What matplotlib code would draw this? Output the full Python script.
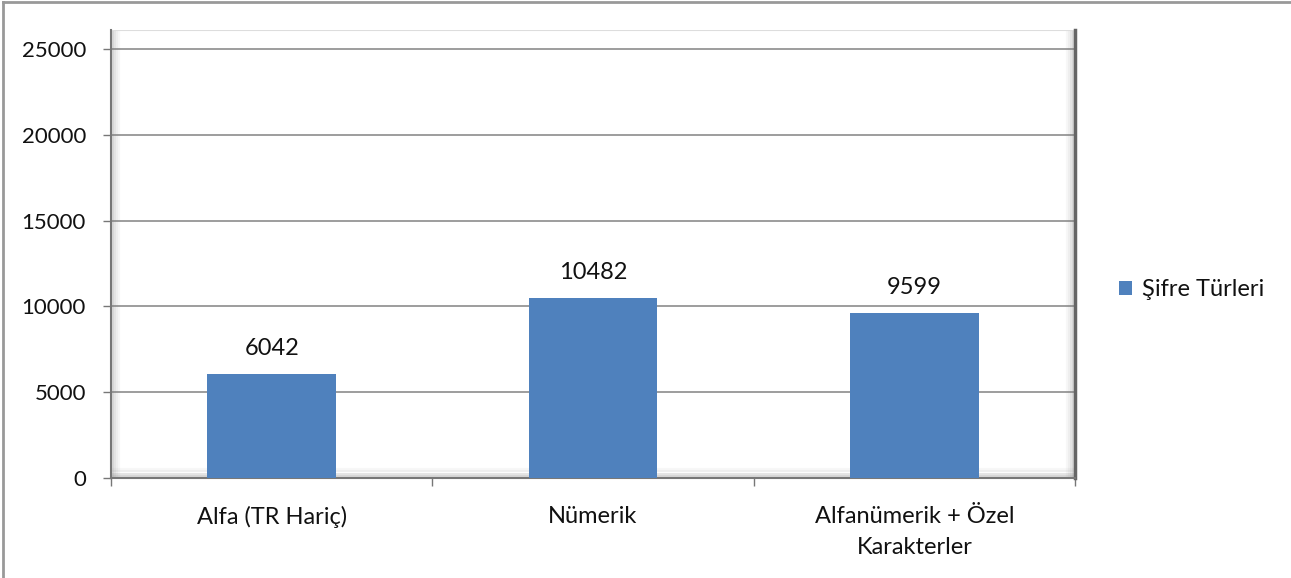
import matplotlib.pyplot as plt
import numpy as np
from matplotlib.lines import Line2D

# chart data
categories = ["Alfa (TR Hariç)", "Nümerik", "Alfanümerik + Özel\nKarakterler"]
values = [6042, 10482, 9599]
series_name = "Şifre Türleri"
y_ticks = [0, 5000, 10000, 15000, 20000, 25000]

bar_color = "#4F81BD"
grid_color = "#8C8C8C"
text_color = "#111111"

plt.rcParams['font.family'] = ['Lato', 'DejaVu Sans']

fig = plt.figure(figsize=(12.91, 5.78), dpi=100)
# plot area placed in pixels of the reference
ax = fig.add_axes([111 / 1291, 1 - 478 / 578, (1075 - 111) / 1291, (478 - 30) / 578])

x = np.arange(len(categories))
bars = ax.bar(x, values, width=0.4, color=bar_color, zorder=3, label=series_name)
ax.bar_label(bars, labels=[str(v) for v in values], padding=11, fontsize=17, color=text_color)

ax.set_xlim(-0.5, len(categories) - 0.5)
ax.set_ylim(0, 26100)
ax.set_yticks(y_ticks)
ax.set_yticklabels([str(t) for t in y_ticks], fontsize=16, color=text_color)
ax.yaxis.grid(True, color=grid_color, lw=1.2, zorder=0)
ax.tick_params(axis='y', length=6, width=1, color="#777777", pad=12)

ax.set_xticks(x)
ax.set_xticklabels(categories, fontsize=17, color=text_color, linespacing=1.6)
ax.set_xticks(np.arange(len(categories) + 1) - 0.5, minor=True)
ax.tick_params(axis='x', which='major', length=0, pad=20)
ax.tick_params(axis='x', which='minor', length=6, width=1, color="#777777")

# frame with a soft shadow look
ax.spines['top'].set_visible(False)
ax.spines['left'].set_color("#777777")
ax.spines['left'].set_linewidth(1.5)
ax.spines['bottom'].set_color("#777777")
ax.spines['bottom'].set_linewidth(1.5)
ax.spines['right'].set_color("#666666")
ax.spines['right'].set_linewidth(2.5)
for i, a in enumerate([0.3, 0.2, 0.12, 0.06]):
    off = (i + 1) * 0.0022
    ax.add_line(Line2D([off, off], [0, 1], transform=ax.transAxes, color="gray", alpha=a, lw=1.5))
    ax.add_line(Line2D([0, 1], [off * 2.2, off * 2.2], transform=ax.transAxes, color="gray", alpha=a, lw=1.5))
    ax.add_line(Line2D([1 - off, 1 - off], [0, 1], transform=ax.transAxes, color="gray", alpha=a, lw=1.5))
ax.add_line(Line2D([0, 1], [1, 1], transform=ax.transAxes, color="#dddddd", lw=1.5))

leg = fig.legend(handles=[bars], labels=[series_name], loc='center left',
                 bbox_to_anchor=(1098 / 1291, 1 - 290 / 578), frameon=False,
                 fontsize=17, handlelength=0.55, handleheight=0.55, handletextpad=0.4)
for t in leg.get_texts():
    t.set_color(text_color)

# outer chart border (left and top visible)
fig.add_artist(Line2D([3 / 1291, 3 / 1291], [0, 1 - 2 / 578], transform=fig.transFigure, color="#999999", lw=2))
fig.add_artist(Line2D([3 / 1291, 1], [1 - 2 / 578, 1 - 2 / 578], transform=fig.transFigure, color="#999999", lw=2))

fig.savefig("out.png", dpi=100)
